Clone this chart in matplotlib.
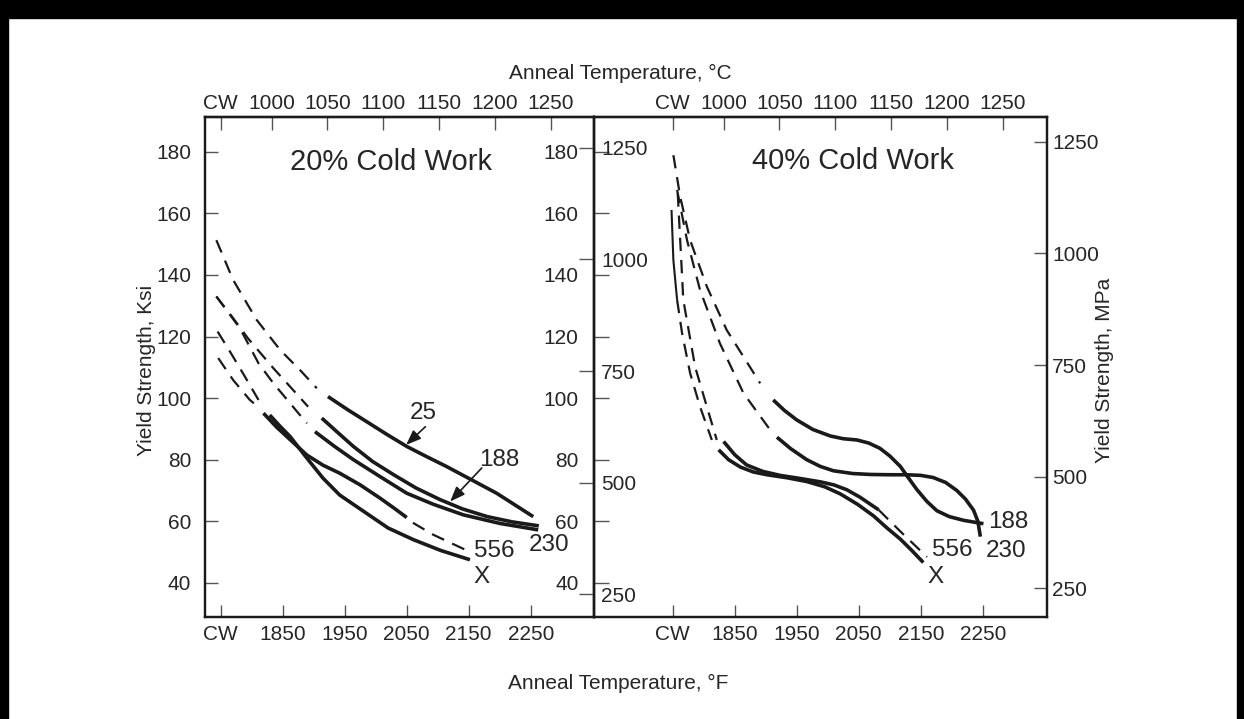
import matplotlib
matplotlib.use('Agg')
import matplotlib.pyplot as plt
from matplotlib.patches import Rectangle

plt.rcParams['font.family'] = ['Liberation Sans', 'DejaVu Sans']

INK = '#1a1a1a'
TXT = '#262626'
TICK = '#555555'

# axis ticks (CW = cold worked, drawn at 1750 F)
f_ticks = [1750, 1850, 1950, 2050, 2150, 2250]
f_labels = ['CW', '1850', '1950', '2050', '2150', '2250']
c_ticks = [954.4, 1000, 1050, 1100, 1150, 1200, 1250]
c_labels = ['CW', '1000', '1050', '1100', '1150', '1200', '1250']
ksi_ticks = [40, 60, 80, 100, 120, 140, 160, 180]
mpa_ticks = [250, 500, 750, 1000, 1250]

# ---- 20% cold work (x = deg F, y = ksi) ----
a25_dash_f = [1743, 1770, 1808, 1846, 1878, 1905]
a25_dash_y = [151.3, 138.4, 125.4, 115.6, 109.1, 103.2]
a25_f = [1923, 1955, 1985, 2018, 2050, 2082, 2114, 2155, 2195, 2254]
a25_y = [100.5, 96.2, 92.4, 88.2, 84.3, 81.0, 77.8, 73.4, 69.1, 61.5]

a188_dash_f = [1743, 1770, 1794, 1835, 1862, 1891]
a188_dash_y = [133.0, 126.0, 119.4, 109.7, 103.7, 97.2]
a188_f = [1913, 1940, 1964, 1995, 2029, 2065, 2104, 2140, 2180, 2220, 2263]
a188_y = [93.5, 88.6, 84.3, 79.4, 75.1, 70.8, 67.0, 64.0, 61.5, 59.8, 58.5]

a230_dash_f = [1743, 1781, 1811, 1835, 1862, 1889]
a230_dash_y = [133.0, 122.7, 111.3, 104.8, 98.3, 91.8]
a230_f = [1902, 1933, 1964, 2007, 2050, 2093, 2141, 2200, 2262]
a230_y = [89.1, 84.4, 80.0, 74.5, 69.1, 65.5, 62.1, 59.3, 57.2]

a556_dash_f = [1745, 1765, 1789, 1811]
a556_dash_y = [121.6, 115.1, 107.0, 99.4]
a556_f = [1819, 1840, 1862, 1889, 1915, 1942, 1975, 2007, 2030, 2050]
a556_y = [95.1, 90.6, 86.5, 81.5, 78.2, 75.6, 71.8, 67.5, 64.2, 61.2]
a556_tail_f = [2060, 2093, 2147]
a556_tail_y = [59.5, 55.6, 50.5]

aX_dash_f = [1746, 1770, 1797, 1813]
aX_dash_y = [113.0, 105.9, 99.4, 96.7]
aX_f = [1829, 1845, 1862, 1889, 1915, 1942, 1985, 2020, 2061, 2105, 2152]
aX_y = [94.5, 91.0, 87.5, 80.5, 74.0, 68.5, 62.6, 57.8, 54.0, 50.5, 47.5]

# ---- 40% cold work ----
b188_dash_f = [1751, 1762, 1778, 1805, 1837, 1891]
b188_dash_y = [178.9, 165.4, 151.3, 136.2, 122.1, 104.8]
b188_f = [1912, 1930, 1950, 1976, 2004, 2025, 2047, 2066, 2084, 2100,
          2117, 2130, 2144, 2160, 2176, 2196, 2219, 2251]
b188_y = [99.4, 96.0, 92.9, 89.8, 87.7, 86.8, 86.4, 85.4, 83.7, 81.2,
          77.8, 74.1, 70.2, 66.4, 63.4, 61.5, 60.3, 59.2]

b230_dash_f = [1757, 1773, 1794, 1826, 1864, 1907]
b230_dash_y = [167.6, 151.3, 135.1, 117.8, 101.6, 89.7]
b230_f = [1918, 1940, 1966, 1988, 2009, 2040, 2068, 2100, 2127, 2150,
          2170, 2190, 2208, 2222, 2235, 2242, 2246]
b230_y = [87.3, 83.6, 80.0, 77.8, 76.4, 75.5, 75.2, 75.1, 75.1, 74.9,
          74.2, 72.6, 70.0, 67.2, 63.6, 60.0, 55.0]

b556_dash_f = [1758, 1762, 1767, 1786, 1805, 1821]
b556_dash_y = [166.5, 151.3, 131.9, 110.2, 97.2, 86.4]
b556_f = [1832, 1850, 1869, 1895, 1923, 1955, 1988, 2010, 2031, 2052, 2074, 2082]
b556_y = [85.9, 81.6, 78.3, 76.2, 74.9, 73.9, 72.8, 71.8, 70.2, 67.8, 64.8, 63.7]
b556_tail_f = [2082, 2117, 2160]
b556_tail_y = [63.7, 56.7, 48.4]

bX_thin_f = [1748, 1751, 1757]
bX_thin_y = [161.1, 144.8, 131.9]
bX_dash_f = [1757, 1765, 1778, 1794, 1813]
bX_dash_y = [131.9, 121.1, 108.1, 97.2, 86.4]
bX_f = [1824, 1840, 1859, 1880, 1902, 1935, 1966, 1995, 2020, 2048,
        2074, 2095, 2117, 2136, 2154]
bX_y = [83.2, 80.0, 77.6, 76.0, 75.1, 74.1, 72.9, 71.2, 68.9, 65.5,
        61.7, 57.9, 54.2, 50.4, 46.6]

KSI2MPA = 6.894757
YLIM = (28.9, 191.3)


def f2c(f):
    return (f - 32) / 1.8


def c2f(c):
    return c * 1.8 + 32


def solid(ax, x, y, lw=2.6):
    ax.plot(x, y, color=INK, lw=lw, solid_capstyle='butt', solid_joinstyle='round')


def dashed(ax, x, y):
    ax.plot(x, y, color=INK, lw=1.6, linestyle=(0, (6, 4)), dash_capstyle='butt')


W, H = 1244, 719
FS = 15
fig = plt.figure(figsize=(W / 100, H / 100), dpi=100)
fig.patch.set_facecolor('white')

ax1 = fig.add_axes([205 / W, 1 - 617 / H, (594 - 205) / W, 500 / H])
ax2 = fig.add_axes([594 / W, 1 - 617 / H, (1046.7 - 594) / W, 500 / H])

for ax, xl in ((ax1, (1724.7, 2352)), (ax2, (1623, 2353))):
    ax.set_facecolor('none')
    ax.set_xlim(*xl)
    ax.set_ylim(*YLIM)
    for s in ax.spines.values():
        s.set_linewidth(1.6)
        s.set_color(INK)
    ax.set_xticks(f_ticks)
    ax.set_xticklabels(f_labels)
    ax.tick_params(axis='x', direction='in', length=9, width=1, color=TICK,
                   labelsize=FS, labelcolor=TXT, pad=6)
    ax.set_yticks(ksi_ticks)
    sec = ax.secondary_xaxis('top', functions=(f2c, c2f))
    sec.set_xticks(c_ticks)
    sec.set_xticklabels(c_labels)
    sec.tick_params(direction='in', length=9, width=1, color=TICK,
                    labelsize=FS, labelcolor=TXT, pad=3)
    sec.spines['top'].set_linewidth(1.6)

ax1.tick_params(axis='y', direction='in', length=9, width=1, color=TICK,
                labelsize=FS, labelcolor=TXT, pad=10)
ax2.tick_params(axis='y', direction='in', length=11, width=1, color=TICK,
                labelsize=FS, labelcolor=TXT, pad=11)

# MPa scales
ax1r = ax1.twinx()
ax1r.set_ylim(YLIM[0] * KSI2MPA, YLIM[1] * KSI2MPA)
ax1r.set_yticks(mpa_ticks)
ax1r.tick_params(axis='y', direction='in', length=11, width=1, color=TICK,
                 labelsize=FS, labelcolor=TXT, pad=5)

ax2r = ax2.twinx()
ax2r.set_ylim(YLIM[0] * KSI2MPA - 13.4, YLIM[1] * KSI2MPA - 13.4)
ax2r.set_yticks(mpa_ticks)
ax2r.tick_params(axis='y', direction='in', length=9.5, width=1, color=TICK,
                 labelsize=FS, labelcolor=TXT, pad=4)
for a in (ax1r, ax2r):
    a.set_facecolor('none')
    for s in a.spines.values():
        s.set_linewidth(1.6)
        s.set_color(INK)

# 20% panel curves
dashed(ax1, a25_dash_f, a25_dash_y)
solid(ax1, a25_f, a25_y)
dashed(ax1, a188_dash_f, a188_dash_y)
solid(ax1, a188_f, a188_y)
dashed(ax1, a230_dash_f, a230_dash_y)
solid(ax1, a230_f, a230_y)
dashed(ax1, a556_dash_f, a556_dash_y)
solid(ax1, a556_f, a556_y)
dashed(ax1, a556_tail_f, a556_tail_y)
dashed(ax1, aX_dash_f, aX_dash_y)
solid(ax1, aX_f, aX_y)

# 40% panel curves
dashed(ax2, b188_dash_f, b188_dash_y)
solid(ax2, b188_f, b188_y)
dashed(ax2, b230_dash_f, b230_dash_y)
solid(ax2, b230_f, b230_y)
dashed(ax2, b556_dash_f, b556_dash_y)
solid(ax2, b556_f, b556_y)
dashed(ax2, b556_tail_f, b556_tail_y)
solid(ax2, bX_thin_f, bX_thin_y, lw=1.5)
dashed(ax2, bX_dash_f, bX_dash_y)
solid(ax2, bX_f, bX_y)

# panel titles and curve labels
ax1.text(2025, 176.8, '20% Cold Work', fontsize=21, color=TXT, ha='center', va='center')
ax2.text(2041, 177, '40% Cold Work', fontsize=21, color=TXT, ha='center', va='center')

lab = dict(fontsize=17.5, color=TXT, ha='center', va='center')
ax1.text(2076, 95.2, '25', **lab)
ax1.text(2200, 80.0, '188', **lab)
ax1.text(2191, 50.4, '556', **lab)
ax1.text(2280, 52.3, '230', **lab)
ax1.text(2171, 42.0, 'X', **lab)
ax2.text(2291, 59.9, '188', **lab)
ax2.text(2287, 50.2, '230', **lab)
ax2.text(2200, 50.5, '556', **lab)
ax2.text(2173, 42.0, 'X', **lab)

arrow = dict(arrowstyle='-|>,head_length=0.9,head_width=0.35', color=INK, lw=1.2,
             shrinkA=0, shrinkB=0)
ax1.annotate('', xy=(2049, 84.8), xytext=(2080, 90.7), arrowprops=arrow)
ax1.annotate('', xy=(2120, 66.4), xytext=(2171, 77.3), arrowprops=arrow)

# axis titles
fig.text(620 / W, 1 - 73 / H, 'Anneal Temperature, °C', fontsize=FS, color=TXT,
         ha='center', va='center')
fig.text(618 / W, 1 - 683 / H, 'Anneal Temperature, °F', fontsize=FS, color=TXT,
         ha='center', va='center')
fig.text(146 / W, 1 - 370 / H, 'Yield Strength, Ksi', fontsize=FS, color=TXT,
         ha='center', va='center', rotation=90)
fig.text(1105 / W, 1 - 370 / H, 'Yield Strength, MPa', fontsize=FS, color=TXT,
         ha='center', va='center', rotation=90)

# black frame round the scan
fig.patches.append(Rectangle((0, 1 - 18 / H), 1, 18 / H, transform=fig.transFigure,
                             color='black', zorder=10))
fig.patches.append(Rectangle((0, 0), 8 / W, 1, transform=fig.transFigure,
                             color='black', zorder=10))
fig.patches.append(Rectangle((1 - 7 / W, 0), 7 / W, 1, transform=fig.transFigure,
                             color='black', zorder=10))

fig.savefig('out.png', dpi=100, facecolor='white')
